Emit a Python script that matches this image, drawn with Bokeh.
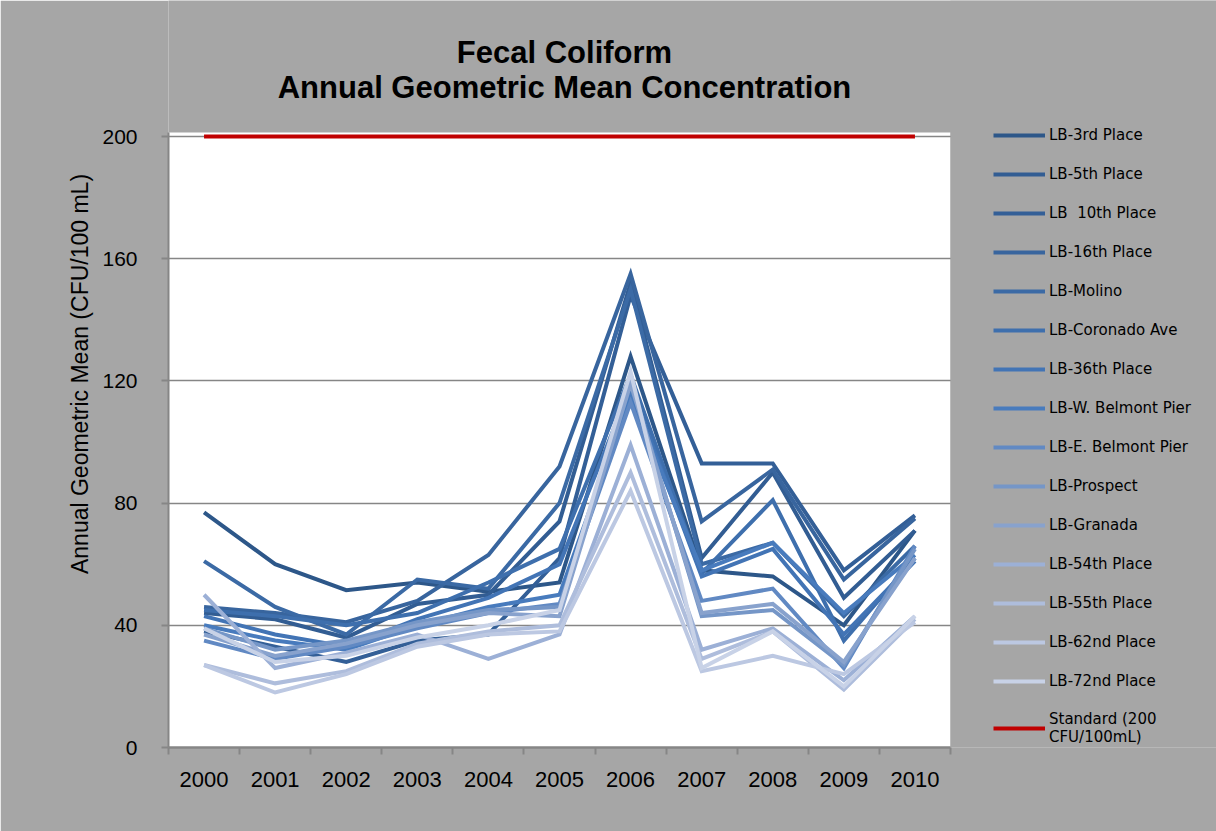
from bokeh.plotting import figure
from bokeh.models import FixedTicker, Legend, LegendItem, Label, BoxAnnotation
from bokeh.embed import file_html
from bokeh.resources import INLINE

years = [2000, 2001, 2002, 2003, 2004, 2005, 2006, 2007, 2008, 2009, 2010]

station_names = [
    "LB-3rd Place", "LB-5th Place", "LB  10th Place", "LB-16th Place", "LB-Molino",
    "LB-Coronado Ave", "LB-36th Place", "LB-W. Belmont Pier", "LB-E. Belmont Pier",
    "LB-Prospect", "LB-Granada", "LB-54th Place", "LB-55th Place", "LB-62nd Place",
    "LB-72nd Place",
]

lb_3rd = [77, 60, 51.5, 54, 51, 54, 128, 58, 56, 40, 71]
lb_5th = [44, 42, 36, 47, 50, 74, 152, 62, 90, 49, 71]
lb_10th = [38, 33, 28, 35, 37, 62, 148, 93, 93, 58, 76]
lb_16th = [46, 44, 41, 48, 63, 92, 155, 74, 91, 55, 75]
lb_molino = [61, 46, 37, 55, 52, 80, 150, 60, 67, 43, 66]
lb_coronado = [45, 43, 40, 44, 54, 65, 122, 57, 81, 35, 62]
lb_36th = [43, 37, 33, 42, 49, 60, 118, 56, 65, 37, 61]
lb_w_belmont = [40, 35, 32, 40, 46, 50, 115, 58, 67, 44, 63]
lb_e_belmont = [35, 29, 33, 39, 44, 47, 113, 48, 52, 26, 66]
lb_prospect = [39, 32, 35, 41, 45, 46, 120, 43, 45, 27, 65]
lb_granada = [37, 30, 34, 40, 44, 43, 119, 44, 47, 28, 62]
lb_54th = [50, 26, 31, 37, 29, 37, 99, 32, 39, 22, 43]
lb_55th = [27, 21, 25, 34, 38, 40, 90, 29, 38, 19, 42]
lb_62nd = [27, 18, 24, 33, 37, 38, 84, 25, 30, 24, 41]
lb_72nd = [39, 28, 30, 36, 40, 45, 123, 26, 38, 20, 43]

standard_value = 200
standard_label = "Standard (200\nCFU/100mL)"

title_line1 = "Fecal Coliform"
title_line2 = "Annual Geometric Mean Concentration"
y_label = "Annual Geometric Mean (CFU/100 mL)"
yticks = [0, 40, 80, 120, 160, 200]

series_values = [lb_3rd, lb_5th, lb_10th, lb_16th, lb_molino, lb_coronado, lb_36th,
                 lb_w_belmont, lb_e_belmont, lb_prospect, lb_granada, lb_54th,
                 lb_55th, lb_62nd, lb_72nd]

colors = ["#2d5789", "#325d93", "#335f97", "#38659e", "#3b6aa5", "#3e6fad", "#4274b5",
          "#487bbd", "#6189c3", "#7596c7", "#88a2cd", "#9cb0d6", "#aebddc", "#bcc8e2",
          "#c8d2e7"]
standard_color = "#c00000"

AXIS_GRAY = "#868686"
BG_GRAY = "#a6a6a6"
LINE_W = 4

# plot-area geometry (data area spans the 11 year slots; the frame continues
# to the right and to the top so that legend and title sit in the gray chart area)
x_lo = years[0] - 0.5
x_hi = years[-1] + 0.5
x_end = x_lo + 1048 / (782 / len(years))
y_top_white = 201.3
y_end = 747 / (611 / 200)

p = figure(width=1216, height=831, x_range=(x_lo, x_end), y_range=(0, y_end),
           output_backend="svg", toolbar_location=None,
           min_border_left=168, min_border_right=0, min_border_top=0,
           min_border_bottom=84)
p.title = None
p.background_fill_color = BG_GRAY
p.border_fill_color = BG_GRAY
p.outline_line_color = None

# white plot area, placed beneath the grid
white_area = BoxAnnotation(left=x_lo, right=x_hi, top=y_top_white, fill_color="white",
                           fill_alpha=1, line_color=None, level="underlay")
p.center = [white_area] + list(p.center)

# x axis: years at centers, tick marks at slot boundaries (minor ticks)
boundaries = [y - 0.5 for y in years] + [years[-1] + 0.5]
p.xaxis.ticker = FixedTicker(ticks=years, minor_ticks=boundaries)
p.xaxis.bounds = (x_lo, x_hi)
p.xaxis.major_tick_line_color = None
p.xaxis.major_tick_out = 0
p.xaxis.major_tick_in = 0
p.xaxis.minor_tick_line_color = AXIS_GRAY
p.xaxis.minor_tick_line_width = 2
p.xaxis.minor_tick_out = 7
p.xaxis.minor_tick_in = 0
p.xaxis.axis_line_color = AXIS_GRAY
p.xaxis.axis_line_width = 2.5
p.xaxis.major_label_text_font = "Liberation Sans"
p.xaxis.major_label_text_font_size = "22px"
p.xaxis.major_label_text_color = "black"
p.xaxis.major_label_standoff = 17
p.xgrid.visible = False

p.yaxis.ticker = FixedTicker(ticks=yticks)
p.yaxis.bounds = (0, y_top_white)
p.yaxis.minor_tick_line_color = None
p.yaxis.major_tick_line_color = AXIS_GRAY
p.yaxis.major_tick_line_width = 2
p.yaxis.major_tick_out = 7
p.yaxis.major_tick_in = 0
p.yaxis.axis_line_color = AXIS_GRAY
p.yaxis.axis_line_width = 2
p.yaxis.major_label_text_font = "Liberation Sans"
p.yaxis.major_label_text_font_size = "21px"
p.yaxis.major_label_text_color = "black"
p.yaxis.major_label_standoff = 24
p.yaxis.axis_label = y_label
p.yaxis.axis_label_text_font = "Liberation Sans"
p.yaxis.axis_label_text_font_size = "23px"
p.yaxis.axis_label_text_font_style = "normal"
p.yaxis.axis_label_text_color = "black"
p.yaxis.axis_label_standoff = 6
p.ygrid.ticker = FixedTicker(ticks=yticks)
p.ygrid.grid_line_color = AXIS_GRAY
p.ygrid.grid_line_width = 1.5

# gray chart area to the right of the plot area (hides grid lines there)
p.add_layout(BoxAnnotation(left=x_hi, fill_color=BG_GRAY, fill_alpha=1,
                           line_color=None, level="underlay"))

# title
x_mid = (years[0] + years[-1]) / 2
for txt, yv in [(title_line1, 227.5), (title_line2, 216.0)]:
    p.add_layout(Label(x=x_mid, y=yv, text=txt, x_offset=5, text_align="center",
                       text_baseline="middle", text_font="Liberation Sans",
                       text_font_size="31px", text_font_style="bold",
                       text_color="black"))

items = []
for name, vals, col in zip(station_names, series_values, colors):
    r = p.line(years, vals, line_color=col, line_width=LINE_W, line_join="miter")
    items.append(LegendItem(label=name, renderers=[r]))
r_std = p.line(years, [standard_value] * len(years), line_color=standard_color,
               line_width=LINE_W)
items.append(LegendItem(label=standard_label, renderers=[r_std]))

legend = Legend(items=items, location=(825, 1))
legend.glyph_width = 52
legend.glyph_height = 20
legend.label_height = 20
legend.spacing = 19
legend.label_standoff = 4
legend.padding = 0
legend.margin = 0
legend.background_fill_alpha = 0
legend.border_line_color = None
legend.label_text_font = "DejaVu Sans"
legend.label_text_font_size = "15px"
legend.label_text_line_height = 1.0
legend.label_text_color = "black"
p.add_layout(legend, "center")

open("out.html", "w").write(file_html(p, INLINE))
